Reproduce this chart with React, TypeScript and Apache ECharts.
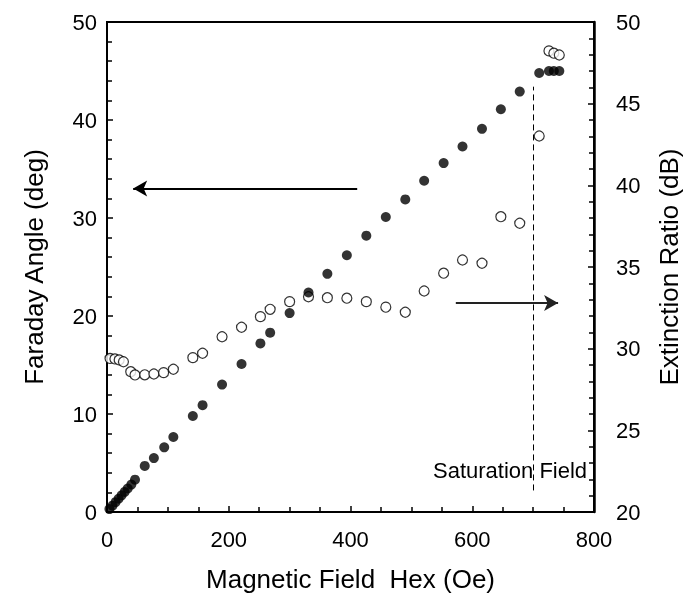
import React, { useEffect, useRef } from "react";
import * as echarts from "echarts";

// Filled circles: Faraday angle (left axis)
const fieldFaraday = [4, 9, 14, 19, 24, 29, 34, 40, 46, 62, 77, 94, 109, 141, 157, 189, 221, 252, 268, 300, 331, 362, 394, 426, 458, 490, 521, 553, 584, 616, 647, 678, 710, 726, 734, 743];
const faradayAngle = [0.3, 0.65, 1.0, 1.35, 1.7, 2.05, 2.4, 2.8, 3.3, 4.7, 5.5, 6.6, 7.65, 9.8, 10.9, 13.0, 15.1, 17.2, 18.3, 20.3, 22.4, 24.3, 26.2, 28.2, 30.1, 31.9, 33.8, 35.6, 37.3, 39.1, 41.1, 42.9, 44.8, 45.0, 45.0, 45.0];

// Open circles: extinction ratio (right axis)
const fieldExtinction = [5, 13, 20, 27, 39, 46, 62, 77, 93, 109, 141, 157, 189, 221, 252, 268, 300, 331, 362, 394, 426, 458, 490, 521, 553, 584, 616, 647, 678, 710, 726, 734, 743];
const extinctionRatio = [29.4, 29.37, 29.31, 29.2, 28.59, 28.39, 28.4, 28.45, 28.53, 28.74, 29.45, 29.72, 30.73, 31.31, 31.96, 32.41, 32.88, 33.18, 33.12, 33.09, 32.88, 32.54, 32.23, 33.53, 34.62, 35.43, 35.23, 38.08, 37.68, 43.02, 48.23, 48.09, 47.98];

// Annotations (data coordinates)
const saturationField = 700;
const saturationSpan = [2.2, 43.4]; // deg, left axis
const leftArrowX = [411, 43];
const leftArrowY = 33; // deg
const rightArrowX = [573, 741];
const rightArrowY = 32.8; // dB

const FONT = "'Liberation Sans', Arial, Helvetica, sans-serif";

export default function App() {
  const ref = useRef<HTMLDivElement>(null);
  useEffect(() => {
    const chart = echarts.init(ref.current!, null, { renderer: "svg" });
    const labelStyle = { color: "#000", fontSize: 22, fontFamily: FONT };
    const titleStyle = { color: "#000", fontSize: 26, fontFamily: FONT };
    chart.setOption({
      animation: false,
      textStyle: { fontFamily: FONT },
      grid: {
        left: 107, right: 92, top: 22, bottom: 93, containLabel: false, outerBoundsMode: "none",
        show: true, borderColor: "#000", borderWidth: 2, backgroundColor: "transparent",
      },
      xAxis: {
        type: "value", min: 0, max: 800, interval: 200,
        name: "Magnetic Field  Hex (Oe)", nameLocation: "middle", nameGap: 54,
        nameTextStyle: { ...titleStyle },
        axisLine: { show: true, lineStyle: { color: "#000", width: 2 } },
        axisTick: { show: true, inside: true, length: 6, lineStyle: { color: "#000", width: 1.5 } },
        minorTick: { show: true, splitNumber: 4, length: 5, lineStyle: { color: "#000", width: 1.5 } },
        axisLabel: { ...labelStyle, margin: 16 },
        splitLine: { show: false },
      },
      yAxis: [
        {
          type: "value", min: 0, max: 50, interval: 10, position: "left",
          name: "Faraday Angle (deg)", nameLocation: "middle", nameGap: 60, nameRotate: 90,
          nameTextStyle: { ...titleStyle },
          axisLine: { show: true, lineStyle: { color: "#000", width: 2 } },
          axisTick: { show: true, inside: true, length: 6, lineStyle: { color: "#000", width: 1.5 } },
          minorTick: { show: true, splitNumber: 5, length: 5, lineStyle: { color: "#000", width: 1.5 } },
          axisLabel: { ...labelStyle, margin: 10 },
          splitLine: { show: false },
        },
        {
          type: "value", min: 20, max: 50, interval: 5, position: "right",
          name: "Extinction Ratio (dB)", nameLocation: "middle", nameGap: 62, nameRotate: 90,
          nameTextStyle: { ...titleStyle },
          axisLine: { show: true, lineStyle: { color: "#000", width: 2.5 } },
          axisTick: { show: true, inside: true, length: 6, lineStyle: { color: "#000", width: 1.5 } },
          minorTick: { show: true, splitNumber: 5, length: 5, lineStyle: { color: "#000", width: 1.5 } },
          axisLabel: { ...labelStyle, margin: 22 },
          splitLine: { show: false },
        },
      ],
      series: [
        {
          type: "scatter", yAxisIndex: 1, symbol: "circle", symbolSize: 10,
          itemStyle: { color: "#fff", borderColor: "#000", borderWidth: 1.2 },
          data: fieldExtinction.map((x, i) => [x, extinctionRatio[i]]),
          z: 3,
          markLine: {
            silent: true, symbol: ["none", "arrow"], symbolSize: [12, 14], label: { show: false },
            lineStyle: { color: "#222", width: 2, type: "solid" },
            data: [[{ coord: [rightArrowX[0], rightArrowY] }, { coord: [rightArrowX[1], rightArrowY] }]],
          },
        },
        {
          type: "scatter", yAxisIndex: 0, symbol: "circle", symbolSize: 10,
          itemStyle: { color: "#000", borderColor: "#000", borderWidth: 0 },
          data: fieldFaraday.map((x, i) => [x, faradayAngle[i]]),
          z: 4,
          markLine: {
            silent: true, label: { show: false }, symbol: ["none", "none"],
            data: [
              [
                { coord: [saturationField, saturationSpan[0]], lineStyle: { color: "#000", width: 1, type: [6, 4] } },
                { coord: [saturationField, saturationSpan[1]] },
              ],
              [
                { coord: [leftArrowX[0], leftArrowY], symbol: "none", lineStyle: { color: "#000", width: 2, type: "solid" } },
                { coord: [leftArrowX[1], leftArrowY], symbol: "arrow", symbolSize: [12, 14] },
              ],
            ],
          },
        },
      ],
      graphic: [
        {
          type: "text", left: 433, top: 459,
          style: { text: "Saturation Field", fill: "#000", font: `22px ${FONT}` },
        },
      ],
    });
    return () => chart.dispose();
  }, []);
  return <div ref={ref} style={{ position: "fixed", left: 0, top: 0, width: 686, height: 605 }} />;
}
